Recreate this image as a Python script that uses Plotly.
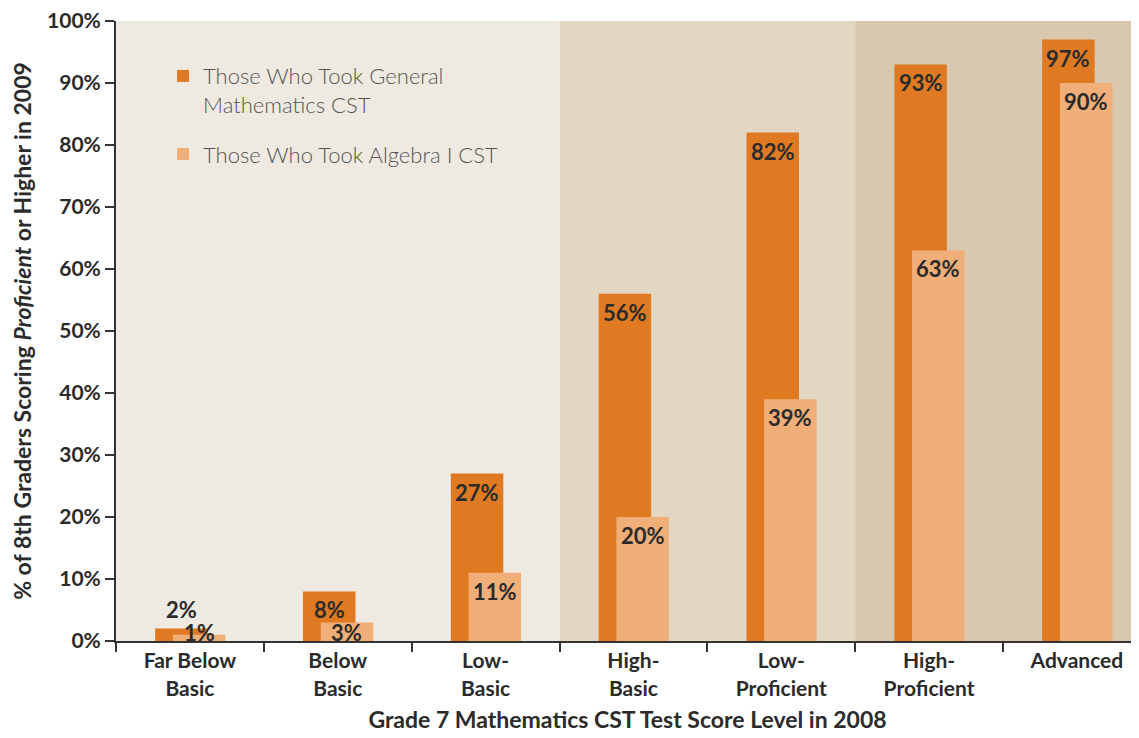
import plotly.graph_objects as go

categories = ["Far Below<br>Basic", "Below<br>Basic", "Low-<br>Basic", "High-<br>Basic",
              "Low-<br>Proficient", "High-<br>Proficient", "Advanced"]
general_math = [2, 8, 27, 56, 82, 93, 97]
algebra_1 = [1, 3, 11, 20, 39, 63, 90]
series_names = ["Those Who Took General<br>Mathematics CST", "Those Who Took Algebra I CST"]
y_ticks = [0, 10, 20, 30, 40, 50, 60, 70, 80, 90, 100]
y_tick_text = [f"{t}%" for t in y_ticks]
# background bands: (first category index, last category index, colour)
bands = [(0, 2, "#eeeae2"), (3, 4, "#e3d7c3"), (5, 6, "#d9c8ad")]

DARK = "#e07a22"
LIGHT = "#f0ae78"
FONT = "Lato"
TXT = "#2b2b2b"

BAR_W = 0.355
OFF_DARK = -0.235
OFF_LIGHT = -0.115
FIT_MIN = 5  # a value label fits inside its bar from this value on

fig = go.Figure()
fig.add_trace(go.Bar(x=categories, y=general_math, name=series_names[0],
                     marker=dict(color=DARK, line=dict(width=0)),
                     width=BAR_W, offset=OFF_DARK, legendgroup="a"))
fig.add_trace(go.Bar(x=categories, y=algebra_1, name=series_names[1],
                     marker=dict(color=LIGHT, line=dict(width=0)),
                     width=BAR_W, offset=OFF_LIGHT, legendgroup="b"))

for x0, x1, col in bands:
    fig.add_shape(type="rect", xref="x", yref="paper", x0=x0 - 0.5, x1=x1 + 0.5,
                  y0=0, y1=1, fillcolor=col, line=dict(width=0), layer="below")

annotations = []
for k, (vals, off) in enumerate(((general_math, OFF_DARK), (algebra_1, OFF_LIGHT))):
    front = k == 1
    for i, v in enumerate(vals):
        if v >= FIT_MIN:
            ypos, anchor, shift = v, "top", -4
        elif front:
            ypos, anchor, shift = 0, "bottom", -6
        else:
            ypos, anchor, shift = v, "bottom", 5
        annotations.append(dict(
            x=i + off + BAR_W / 2, y=ypos, xref="x", yref="y",
            text=f"{v}%", showarrow=False, borderpad=0,
            yanchor=anchor, yshift=shift,
            font=dict(family=FONT, size=22, color=TXT, weight="bold")))

# the page body has an 8px default margin, so the figure is 8px smaller
fig.update_layout(
    width=1131, height=730,
    margin=dict(l=108, r=0, t=13, b=97, autoexpand=False),
    paper_bgcolor="white", plot_bgcolor="white",
    barmode="overlay",
    annotations=annotations,
    showlegend=True,
    legend=dict(x=0.046, y=0.945, xanchor="left", yanchor="top", valign="top",
                bgcolor="rgba(0,0,0,0)", tracegroupgap=18,
                font=dict(family=FONT, size=22, color="#555555", weight=300),
                itemclick=False),
    xaxis=dict(type="category", range=[-0.5, 6.42], automargin=False,
               tickson="boundaries", ticks="outside", ticklen=9, tickwidth=2,
               tickcolor="#333333", showline=True, linecolor="#333333", linewidth=2,
               showgrid=False,
               tickfont=dict(family=FONT, size=21, color=TXT, weight="bold"),
               title=dict(text="Grade 7 Mathematics CST Test Score Level in 2008",
                          font=dict(family=FONT, size=23, color=TXT, weight="bold"),
                          standoff=13)),
    yaxis=dict(range=[0, 100], tickvals=y_ticks, ticktext=y_tick_text, automargin=False,
               ticklabeloverflow="allow",
               ticks="outside", ticklen=9, tickwidth=2, tickcolor="#333333",
               showline=True, linecolor="#333333", linewidth=2, showgrid=False,
               zeroline=False,
               tickfont=dict(family=FONT, size=21, color=TXT, weight="bold"),
               title=dict(text="% of 8th Graders Scoring <i>Proficient</i> or Higher in 2009",
                          font=dict(family=FONT, size=23, color=TXT, weight="bold"),
                          standoff=20)),
)

fig.write_html("out.html")
